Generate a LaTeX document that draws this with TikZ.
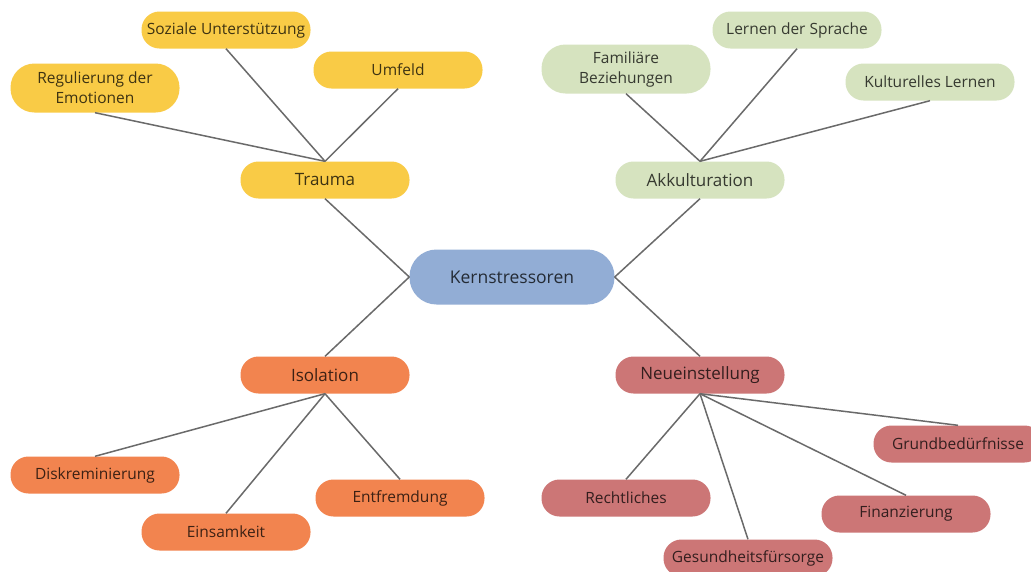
\documentclass[tikz,border=0pt]{standalone}
\usepackage{fontspec}
\setmainfont{Open Sans}
\definecolor{cYellow}{HTML}{F9CB46}
\definecolor{cGreen}{HTML}{D6E3BF}
\definecolor{cBlue}{HTML}{92ADD5}
\definecolor{cOrange}{HTML}{F2844F}
\definecolor{cRed}{HTML}{CC7676}
\definecolor{cLine}{HTML}{6A6A6A}
\begin{document}
\begin{tikzpicture}[x=1pt,y=-1pt,
  pill/.style={rounded corners=18pt, minimum width=169pt, minimum height=37pt,
    inner sep=2pt, align=center, font=\fontsize{15.5}{20}\selectfont,
    fill=#1, text=#1!25!black},
  hub/.style={pill=#1, font=\fontsize{17}{20}\selectfont},
  link/.style={draw=cLine, line width=1.5pt}]
\useasboundingbox (0,0) rectangle (1031,571);
\clip (0,0) rectangle (1031,571);
\fill[white] (0,0) rectangle (1031,571);

% centre
\node[pill=cBlue, minimum width=205pt, minimum height=55pt, rounded corners=27pt,
      font=\fontsize{17.5}{20}\selectfont] (kern) at (512,277) {Kernstressoren};

% main branches
\node[hub=cYellow] (trauma) at (325,180) {Trauma};
\node[hub=cGreen]  (akk)    at (700,180) {Akkulturation};
\node[hub=cOrange] (iso)    at (325,375) {Isolation};
\node[hub=cRed]    (neu)    at (700,375) {Neueinstellung};

% Trauma leaves
\node[pill=cYellow] (sozial) at (226,30) {Soziale Unterstützung};
\node[pill=cYellow] (umfeld) at (398,70) {Umfeld};
\node[pill=cYellow, minimum height=49pt, rounded corners=24pt] (regul) at (95,88) {Regulierung der\\Emotionen};

% Akkulturation leaves
\node[pill=cGreen, minimum height=49pt, rounded corners=24pt] (fam) at (626,69) {Familiäre\\Beziehungen};
\node[pill=cGreen] (sprache) at (797,30) {Lernen der Sprache};
\node[pill=cGreen] (kult)    at (930,82) {Kulturelles Lernen};

% Isolation leaves
\node[pill=cOrange] (diskr)  at (95,475)  {Diskreminierung};
\node[pill=cOrange] (einsam) at (226,532) {Einsamkeit};
\node[pill=cOrange] (entfr)  at (400,498) {Entfremdung};

% Neueinstellung leaves
\node[pill=cRed] (recht)  at (626,498) {Rechtliches};
\node[pill=cRed] (gesund) at (748,558) {Gesundheitsfürsorge};
\node[pill=cRed] (finanz) at (906,514) {Finanzierung};
\node[pill=cRed] (grund)  at (958,444) {Grundbedürfnisse};

% connectors to the centre
\draw[link] (trauma.south) -- (kern.west);
\draw[link] (iso.north) -- (kern.west);
\draw[link] (akk.south) -- (kern.east);
\draw[link] (neu.north) -- (kern.east);

% connectors to the leaves
\draw[link] (trauma.north) -- (regul.south);
\draw[link] (trauma.north) -- (sozial.south);
\draw[link] (trauma.north) -- (umfeld.south);

\draw[link] (akk.north) -- (fam.south);
\draw[link] (akk.north) -- (sprache.south);
\draw[link] (akk.north) -- (kult.south);

\draw[link] (iso.south) -- (diskr.north);
\draw[link] (iso.south) -- (einsam.north);
\draw[link] (iso.south) -- (entfr.north);

\draw[link] (neu.south) -- (recht.north);
\draw[link] (neu.south) -- (gesund.north);
\draw[link] (neu.south) -- (finanz.north);
\draw[link] (neu.south) -- (grund.north);
\end{tikzpicture}
\end{document}
